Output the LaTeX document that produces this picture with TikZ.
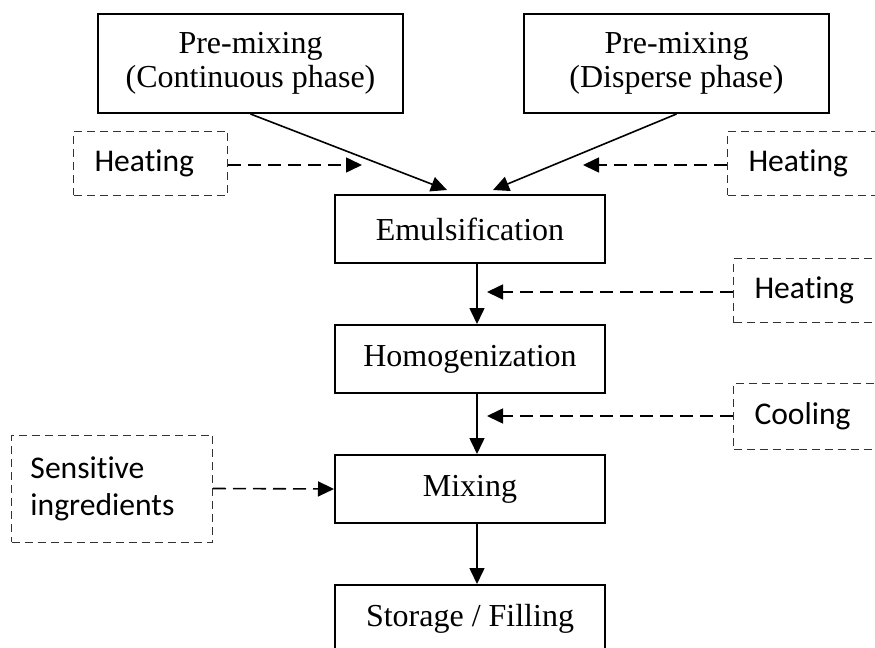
\documentclass[tikz,border=0pt]{standalone}
\usepackage{fontspec}
\setmainfont{Liberation Serif}
\newfontfamily\calibrifont[Ligatures=NoCommon]{Carlito}
\usetikzlibrary{positioning, arrows.meta}
\tikzset{
    process/.style={
        draw=black,
        line width=1pt,
        minimum width=135pt,
        minimum height=34pt,
        inner sep=2pt,
        align=center,
        font=\fontsize{16}{17}\selectfont
    },
    premix/.style={
        process,
        minimum width=152.5pt,
        minimum height=49.5pt
    },
    utility/.style={
        draw=black!80,
        line width=0.5pt,
        dash pattern=on 4pt off 2.5pt,
        anchor=west,
        align=left,
        inner xsep=10.5pt,
        text width=56pt,
        minimum height=32pt,
        font=\calibrifont\fontsize{15.8}{18.5}\selectfont
    },
    flow/.style={-{Triangle[length=8pt,width=7.5pt]}, line width=0.8pt},
    supply/.style={flow, dash pattern=on 6.5pt off 3.5pt}
}

\begin{document}
\begin{tikzpicture}[x=0.5pt, y=-0.5pt, node distance=65pt, on grid]
            \useasboundingbox (0,0) rectangle (875,648);
            \clip (0,0) rectangle (875,648);

            % Process steps
            \node (contPhase) [premix] at (250.5,63.5) {Pre-mixing\\(Continuous phase)};
            \node (dispPhase) [premix] at (676.5,63.5) {Pre-mixing\\(Disperse phase)};
            \node (emul) [process] at (470,229) {Emulsification};
            \node (homog) [
                process,
                below = of emul
            ] {Homogenization};
            \node (mixing) [
                process,
                below = of homog
            ] {Mixing};
            \node (storage) [
                process,
                below = of mixing
            ] {Storage / Filling};

            % Utilities
            \node (heatLeft) [utility] at (73,163) {Heating};
            \node (heatRight) [utility] at (727,163) {Heating};
            \node (heatHomog) [utility] at (733,290.5) {Heating};
            \node (cool) [utility, minimum height=33pt] at (733,416) {Cooling};
            \node (sensitive) [
                utility,
                text width=81.5pt,
                inner xsep=9.5pt,
                minimum height=53.5pt
            ] at (11,488.5) {Sensitive\\ingredients};

            % Free ends
            \coordinate (contIn) at (447,190);
            \coordinate (dispIn) at (493,190);
            \coordinate (heatLeftEnd) at (362,165);
            \coordinate (heatRightEnd) at (583,165);
            \coordinate (heatHomogEnd) at (487,292);
            \coordinate (coolEnd) at (487,416);

            % Main flow
            \path [flow]
                (contPhase.south) edge (contIn)
                (dispPhase.south) edge (dispIn)
                ([xshift=3.5pt]emul.south) edge ([xshift=3.5pt]homog.north)
                ([xshift=3.5pt]homog.south) edge ([xshift=3.5pt]mixing.north)
                ([xshift=3.5pt]mixing.south) edge ([xshift=3.5pt]storage.north)
            ;

            % Utility supply
            \path [supply]
                (heatLeft.east |- heatLeftEnd) edge (heatLeftEnd)
                (heatRight.west |- heatRightEnd) edge (heatRightEnd)
                (heatHomog.west |- heatHomogEnd) edge (heatHomogEnd)
                (cool.west) edge (coolEnd)
                (sensitive.east) edge (mixing.west)
            ;
        \end{tikzpicture}
\end{document}
